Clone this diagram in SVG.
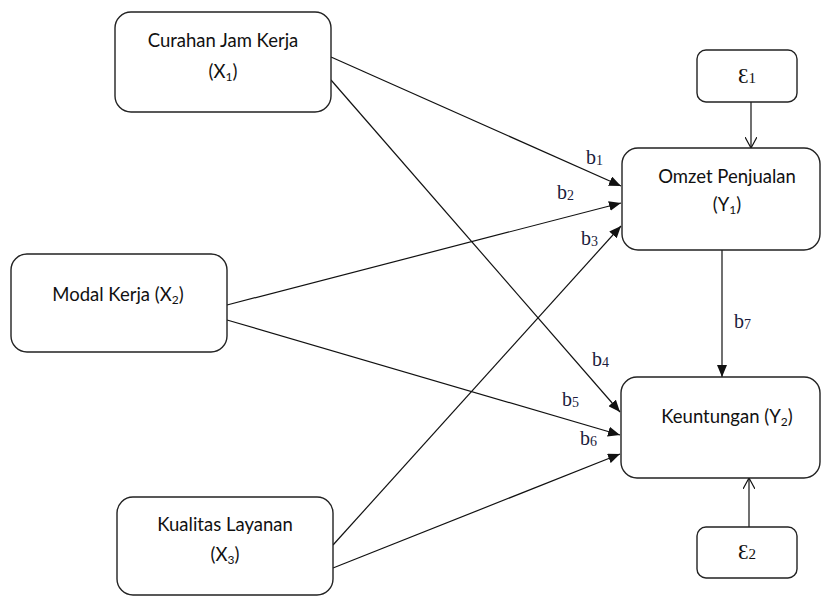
<svg xmlns="http://www.w3.org/2000/svg" width="825" height="596" viewBox="0 0 825 596">
<style>
.box{fill:#fff;stroke:#222;stroke-width:1.4}
.lbl{font-family:Lato,"Liberation Sans",sans-serif;font-size:18.5px;fill:#111;text-anchor:middle}
.sub{font-size:12px}
.b{font-family:"Liberation Serif",serif;font-size:20px;fill:#1c1c3c}
.bs{font-size:14px}
.eps{font-family:"Liberation Serif","DejaVu Serif",serif;font-size:21px;fill:#111;text-anchor:middle}
.conn{stroke:#111;stroke-width:1.2;fill:none}
</style>
<defs>
<marker id="fa" viewBox="0 0 12 10" refX="12" refY="5" markerWidth="12" markerHeight="10" markerUnits="userSpaceOnUse" orient="auto">
<path d="M0,0 L12,5 L0,10 Z" fill="#111"/>
</marker>
<marker id="oa" viewBox="0 0 12 12" refX="11" refY="6" markerWidth="12" markerHeight="12" markerUnits="userSpaceOnUse" orient="auto">
<path d="M0,0 L11,6 L0,12" fill="none" stroke="#111" stroke-width="1.2"/>
</marker>
</defs>
<g id="connectors">
<line class="conn" x1="331" y1="57" x2="621" y2="186" marker-end="url(#fa)"/>
<line class="conn" x1="331" y1="80" x2="620" y2="412" marker-end="url(#fa)"/>
<line class="conn" x1="227" y1="305" x2="621" y2="203" marker-end="url(#fa)"/>
<line class="conn" x1="227" y1="320" x2="620" y2="435" marker-end="url(#fa)"/>
<line class="conn" x1="333" y1="545" x2="621" y2="226" marker-end="url(#fa)"/>
<line class="conn" x1="333" y1="568" x2="620" y2="454" marker-end="url(#fa)"/>
<line class="conn" x1="722" y1="250" x2="722" y2="377" marker-end="url(#fa)"/>
<line class="conn" x1="751" y1="102" x2="751" y2="148" marker-end="url(#oa)"/>
<line class="conn" x1="749" y1="527" x2="749" y2="478" marker-end="url(#oa)"/>
<text class="b" x="586" y="164">b<tspan class="bs" dy="1">1</tspan></text>
<text class="b" x="557" y="199">b<tspan class="bs" dy="1">2</tspan></text>
<text class="b" x="581" y="245">b<tspan class="bs" dy="1">3</tspan></text>
<text class="b" x="592" y="366">b<tspan class="bs" dy="1">4</tspan></text>
<text class="b" x="562" y="406">b<tspan class="bs" dy="1">5</tspan></text>
<text class="b" x="580" y="445">b<tspan class="bs" dy="1">6</tspan></text>
<text class="b" x="734" y="328">b<tspan class="bs" dy="1">7</tspan></text>
</g>
<g id="x1">
<rect class="box" x="115" y="12" width="216" height="100" rx="16"/>
<text class="lbl" x="223" y="47">Curahan Jam Kerja</text>
<text class="lbl" x="223" y="78">(X<tspan class="sub" dy="3">1</tspan><tspan dy="-3">)</tspan></text>
</g>
<g id="x2">
<rect class="box" x="11" y="254" width="216" height="98" rx="16"/>
<text class="lbl" x="118" y="301">Modal Kerja (X<tspan class="sub" dy="3">2</tspan><tspan dy="-3">)</tspan></text>
</g>
<g id="x3">
<rect class="box" x="117" y="497" width="216" height="98" rx="16"/>
<text class="lbl" x="225" y="531">Kualitas Layanan</text>
<text class="lbl" x="225" y="561">(X<tspan class="sub" dy="3">3</tspan><tspan dy="-3">)</tspan></text>
</g>
<g id="y1">
<rect class="box" x="622" y="148" width="198" height="102" rx="16"/>
<text class="lbl" x="727" y="183">Omzet Penjualan</text>
<text class="lbl" x="727" y="211">(Y<tspan class="sub" dy="3">1</tspan><tspan dy="-3">)</tspan></text>
</g>
<g id="y2">
<rect class="box" x="621" y="377" width="199" height="101" rx="16"/>
<text class="lbl" x="727" y="423">Keuntungan (Y<tspan class="sub" dy="3">2</tspan><tspan dy="-3">)</tspan></text>
</g>
<g id="e1">
<rect class="box" x="697" y="50" width="100" height="52" rx="9"/>
<text class="eps" x="747" y="83">Ɛ<tspan style="font-size:15px">1</tspan></text>
</g>
<g id="e2">
<rect class="box" x="697" y="527" width="100" height="51" rx="9"/>
<text class="eps" x="747" y="559">Ɛ<tspan style="font-size:15px">2</tspan></text>
</g>
</svg>
